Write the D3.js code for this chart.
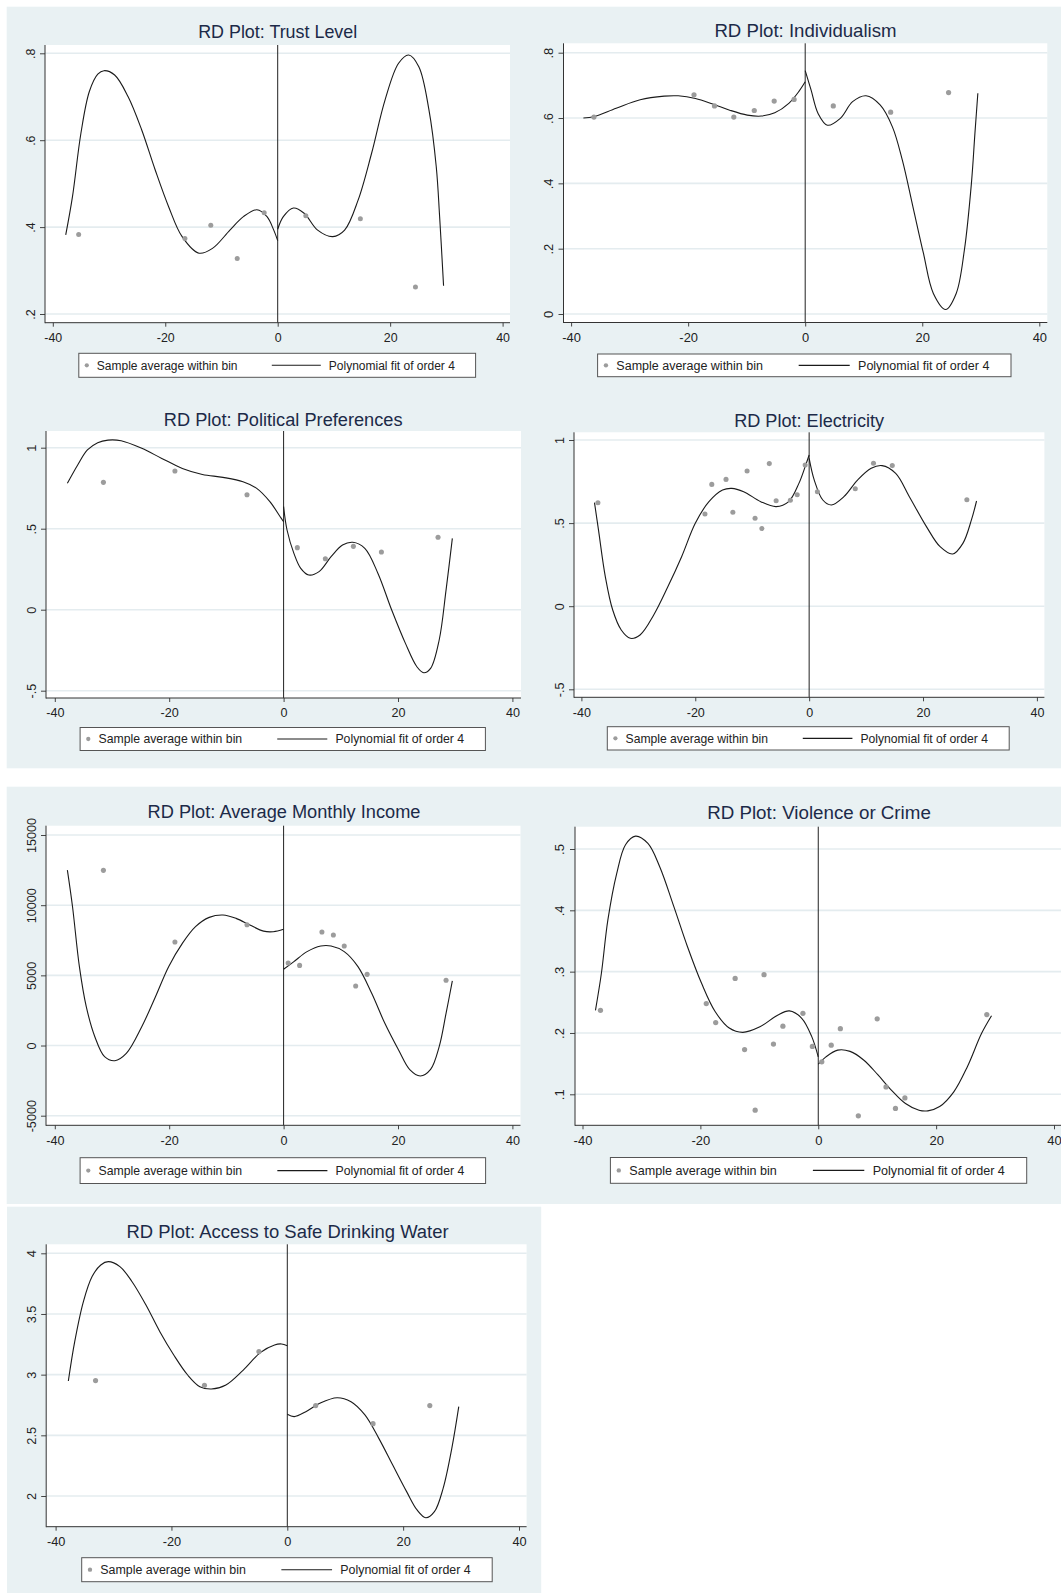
<!DOCTYPE html>
<html>
<head>
<meta charset="utf-8">
<script src="https://cdn.jsdelivr.net/npm/d3@7"></script>
<style>
  body { margin: 0; background: #fff; }
  svg { display: block; font-family: "Liberation Sans", Arial, sans-serif; }
</style>
</head>
<body>
<svg id="chart" width="1061" height="1593"></svg>
<script>
// ---- data ----
const xTicks = [-40, -20, 0, 20, 40];
const legendLabels = ['Sample average within bin', 'Polynomial fit of order 4'];

const trustBins = [[-35.4, .383], [-16.5, .374], [-11.9, .404], [-7.2, .328], [-2.4, .433], [5.0, .426], [14.7, .419], [24.5, .262]];
const trustFitLeft = [[-37.7, .382], [-36.5, .47], [-35, .616], [-33.5, .712], [-32, .752], [-30.9, .76], [-29, .75], [-26.6, .70], [-24.2, .624], [-21.8, .532], [-19.4, .447], [-17, .378], [-14, .34], [-11.6, .351], [-8.5, .393], [-6.1, .424], [-3.7, .44], [-1.9, .424], [-0.7, .393], [0, .369]];
const trustFitRight = [[0, .395], [1, .424], [2.8, .444], [4.7, .432], [7.1, .393], [9.8, .378], [11.9, .393], [14.3, .462], [16.7, .57], [19.1, .693], [21.5, .777], [23.3, .796], [25.1, .769], [26.9, .67], [28.2, .539], [28.8, .424], [29.5, .265]];
const trustTicks = [.2, .4, .6, .8];
const trustTickLabels = ['.2', '.4', '.6', '.8'];

const indivBins = [[-36.1, .603], [-19, .671], [-15.5, .637], [-12.2, .603], [-8.7, .623], [-5.3, .652], [-1.9, .657], [4.8, .637], [14.6, .618], [24.5, .678]];
const indivFitLeft = [[-37.9, .6], [-36.1, .604], [-32.3, .63], [-28.2, .656], [-24.1, .667], [-21.7, .668], [-18.75, .66], [-15.8, .643], [-12.9, .624], [-9.9, .609], [-7.5, .606], [-5.2, .616], [-2.8, .645], [-1.1, .681], [0, .711]];
const indivFitRight = [[0, .745], [1, .686], [2.2, .614], [3.8, .578], [6, .599], [8.1, .65], [10.4, .668], [12.8, .64], [14.9, .573], [16.6, .471], [18.4, .329], [20.2, .186], [21.9, .063], [24, .014], [25.8, .063], [27.2, .196], [28.4, .40], [29, .553], [29.5, .676]];
const indivTicks = [0, .2, .4, .6, .8];
const indivTickLabels = ['0', '.2', '.4', '.6', '.8'];

const politBins = [[-31.5, .786], [-19, .856], [-6.4, .71], [2.4, .383], [7.3, .315], [12.2, .391], [17.1, .356], [27, .447]];
const politFitLeft = [[-37.8, .78], [-36, .893], [-34.3, .986], [-32.5, 1.031], [-30.7, 1.047], [-28.4, 1.043], [-24.8, .996], [-21.3, .934], [-17.7, .872], [-14.2, .835], [-10.6, .817], [-7.1, .79], [-4.7, .749], [-2.4, .667], [-0.6, .574], [0, .543]];
const politFitRight = [[0, .636], [0.6, .492], [1.8, .348], [3, .255], [4.4, .214], [6.2, .235], [8.3, .327], [10.3, .399], [12.1, .416], [14.2, .379], [16.5, .224], [18.9, -.002], [21.3, -.208], [23.3, -.352], [24.5, -.389], [25.7, -.362], [27.2, -.187], [28.4, .121], [29.5, .44]];
const politTicks = [-.5, 0, .5, 1];
const politTickLabels = ['-.5', '0', '.5', '1'];

const electBins = [[-37.1, .623], [-18.3, .555], [-17.1, .733], [-14.6, .763], [-13.4, .565], [-10.9, .813], [-9.5, .529], [-8.3, .467], [-7, .858], [-5.8, .635], [-3.3, .637], [-2.1, .671], [-0.7, .85], [1.45, .689], [8.1, .707], [11.3, .86], [14.6, .846], [27.7, .641]];
const electFitLeft = [[-37.7, .623], [-37, .459], [-35.8, .178], [-34.5, -.023], [-33, -.143], [-31.4, -.193], [-29.7, -.173], [-27.3, -.053], [-24.8, .118], [-22.4, .298], [-20, .499], [-17.6, .629], [-15.2, .699], [-13.6, .709], [-11.5, .689], [-8.5, .629], [-5.8, .599], [-3.6, .629], [-1.8, .739], [-0.6, .85], [0, .91]];
const electFitRight = [[0, .89], [.9, .759], [2.4, .639], [3.9, .609], [6.1, .659], [8.5, .759], [10.9, .83], [12.8, .846], [15.2, .799], [17.6, .659], [20.6, .479], [23, .358], [25.2, .314], [27, .378], [28.5, .519], [29.4, .633]];
const electTicks = [-.5, 0, .5, 1];
const electTickLabels = ['-.5', '0', '.5', '1'];

const incomeBins = [[-31.5, 12480], [-19, 7380], [-6.4, 8610], [0.8, 5880], [2.8, 5710], [6.7, 8090], [8.7, 7880], [10.6, 7090], [12.6, 4240], [14.6, 5070], [28.4, 4650]];
const incomeFitLeft = [[-37.8, 12500], [-36.9, 9890], [-35.7, 5620], [-34.5, 2770], [-33, 630], [-31.3, -790], [-29.5, -1080], [-27.5, -560], [-24.8, 1340], [-22.4, 3480], [-20.1, 5620], [-17.7, 7280], [-15.4, 8470], [-13, 9130], [-10.6, 9300], [-8.3, 9060], [-5.9, 8590], [-3.5, 8150], [-1.8, 8110], [0, 8280]];
const incomeFitRight = [[0, 5430], [1.8, 5980], [4.1, 6690], [6.5, 7090], [8.3, 7090], [10.6, 6690], [13, 5620], [15.4, 3720], [17.7, 1580], [20.1, -320], [22.1, -1740], [23.9, -2170], [25.7, -1700], [27.2, -80], [28.4, 2290], [29.5, 4600]];
const incomeTicks = [-5000, 0, 5000, 10000, 15000];
const incomeTickLabels = ['-5000', '0', '5000', '10000', '15000'];

const crimeBins = [[-36.95, .237], [-19, .248], [-17.4, .217], [-14.1, .289], [-12.5, .173], [-10.7, .074], [-9.2, .295], [-7.6, .182], [-6, .211], [-2.6, .232], [-1, .178], [0.6, .153], [2.2, .18], [3.75, .207], [6.8, .065], [10, .223], [11.5, .112], [13.1, .077], [14.7, .094], [28.6, .23]];
const crimeFitLeft = [[-37.8, .237], [-36.8, .297], [-35.7, .384], [-34.2, .46], [-32.7, .507], [-31, .521], [-28.9, .509], [-26.9, .471], [-24.5, .406], [-22.2, .341], [-19.8, .281], [-17.5, .235], [-15.1, .208], [-12.8, .201], [-9.9, .21], [-6.9, .229], [-4.9, .236], [-2.8, .224], [-1.1, .194], [0, .161]];
const crimeFitRight = [[0, .149], [1.3, .161], [3.3, .172], [5.4, .17], [7.7, .156], [10.1, .132], [12.4, .107], [14.8, .085], [17.1, .074], [18.6, .073], [20.6, .08], [23, .104], [25.3, .145], [27.7, .199], [29.4, .228]];
const crimeTicks = [.1, .2, .3, .4, .5];
const crimeTickLabels = ['.1', '.2', '.3', '.4', '.5'];

const waterBins = [[-33.1, 2.951], [-14.3, 2.912], [-4.9, 3.19], [4.9, 2.745], [14.8, 2.596], [24.6, 2.745]];
const waterFitLeft = [[-37.8, 2.948], [-36.7, 3.272], [-35.2, 3.602], [-33.7, 3.808], [-32.2, 3.904], [-30.9, 3.931], [-28.9, 3.89], [-26.8, 3.766], [-24.4, 3.574], [-22, 3.354], [-19.6, 3.162], [-17.2, 2.997], [-15.1, 2.901], [-13.1, 2.882], [-10.6, 2.915], [-7.6, 3.038], [-4.6, 3.184], [-2.2, 3.245], [-1, 3.253], [0, 3.239]];
const waterFitRight = [[0, 2.673], [1.2, 2.654], [3.2, 2.695], [5.6, 2.764], [8.6, 2.81], [11, 2.777], [13.4, 2.668], [15.8, 2.475], [18.2, 2.255], [20.6, 2.036], [22.4, 1.885], [23.9, 1.821], [25.4, 1.871], [26.9, 2.063], [28.4, 2.393], [29.6, 2.736]];
const waterTicks = [2, 2.5, 3, 3.5, 4];
const waterTickLabels = ['2', '2.5', '3', '3.5', '4'];

// ---- layout (pixels) ----
// grey graph regions behind the panels
const backgrounds = [[6.7, 6.7, 1055, 761.6], [6.7, 786.7, 1055, 417.3], [7, 1206.7, 534.2, 390]];

const panels = [
    { title: 'RD Plot: Trust Level', bins: trustBins, left: trustFitLeft, right: trustFitRight, ticks: trustTicks, labels: trustTickLabels,
      plot: [45, 45, 510, 322.7], xr: [52.8, 502.6], yr: [314, 53.3], legend: [78.8, 353.3, 475.6, 377.3], tpos: [277.7, 31.7] },
    { title: 'RD Plot: Individualism', bins: indivBins, left: indivFitLeft, right: indivFitRight, ticks: indivTicks, labels: indivTickLabels,
      plot: [563.5, 43.3, 1047.3, 322.5], xr: [571.1, 1039.3], yr: [314, 52.7], legend: [597.6, 354, 1011, 376.7], tpos: [805.5, 30.7] },
    { title: 'RD Plot: Political Preferences', bins: politBins, left: politFitLeft, right: politFitRight, ticks: politTicks, labels: politTickLabels,
      plot: [46, 431, 521, 698], xr: [54.8, 512.4], yr: [690.7, 447.7], legend: [80.1, 727.5, 485.4, 750.5], tpos: [283.2, 419.3] },
    { title: 'RD Plot: Electricity', bins: electBins, left: electFitLeft, right: electFitRight, ticks: electTicks, labels: electTickLabels,
      plot: [574, 432.3, 1044.4, 697.3], xr: [581.4, 1036.9], yr: [689.3, 440], legend: [607.3, 726.7, 1009.2, 750], tpos: [809.1, 420] },
    { title: 'RD Plot: Average Monthly Income', bins: incomeBins, left: incomeFitLeft, right: incomeFitRight, ticks: incomeTicks, labels: incomeTickLabels,
      plot: [46, 825.7, 520.5, 1125.3], xr: [54.8, 512.4], yr: [1115.7, 835], legend: [80.1, 1157.7, 485.6, 1183.5], tpos: [284, 811.7] },
    { title: 'RD Plot: Violence or Crime', bins: crimeBins, left: crimeFitLeft, right: crimeFitRight, ticks: crimeTicks, labels: crimeTickLabels,
      plot: [575, 826.7, 1075, 1125.3], xr: [582.5, 1054], yr: [1094.3, 849], legend: [610.4, 1157.5, 1026.7, 1183.3], tpos: [819, 812.3] },
    { title: 'RD Plot: Access to Safe Drinking Water', bins: waterBins, left: waterFitLeft, right: waterFitRight, ticks: waterTicks, labels: waterTickLabels,
      plot: [46.2, 1244.3, 526.6, 1526.7], xr: [55.6, 519], yr: [1496, 1253.3], legend: [81.7, 1557.7, 492.2, 1581.7], tpos: [287.6, 1231] }
];

const svg = d3.select('#chart');

svg.selectAll('rect.bg')
    .data(backgrounds)
    .enter()
    .append('rect')
    .attr('class', 'bg')
    .attr('x', d => d[0]).attr('y', d => d[1])
    .attr('width', d => d[2]).attr('height', d => d[3])
    .attr('fill', '#e9f1f3');

panels.forEach(drawPanel);

function drawPanel(p) {
    const [x0, y0, x1, y1] = p.plot;
    const k = (p.xr[1] - p.xr[0]) / 449.8; // size factor of this pasted panel
    const x = d3.scaleLinear().domain([-40, 40]).range(p.xr);
    const y = d3.scaleLinear().domain([p.ticks[0], p.ticks[p.ticks.length - 1]]).range(p.yr);
    const g = svg.append('g');

    // title
    g.append('text')
        .attr('x', p.tpos[0])
        .attr('y', p.tpos[1])
        .attr('dy', '0.36em')
        .attr('text-anchor', 'middle')
        .attr('font-size', 17.9 * k)
        .attr('fill', '#1c2a48')
        .text(p.title);

    // plot region
    g.append('rect')
        .attr('x', x0).attr('y', y0)
        .attr('width', x1 - x0).attr('height', y1 - y0)
        .attr('fill', '#fff');

    // grid lines
    g.selectAll('.grid')
        .data(p.ticks)
        .enter()
        .append('line')
        .attr('class', 'grid')
        .attr('x1', x0).attr('x2', x1)
        .attr('y1', d => y(d)).attr('y2', d => y(d))
        .attr('stroke', '#e4ecef')
        .attr('stroke-width', 1.6);

    // cutoff line
    g.append('line')
        .attr('x1', x(0)).attr('x2', x(0))
        .attr('y1', y0).attr('y2', y1)
        .attr('stroke', '#222')
        .attr('stroke-width', 1);

    // polynomial fits, one each side of the cutoff
    const line = d3.line()
        .x(d => x(d[0]))
        .y(d => y(d[1]))
        .curve(d3.curveCatmullRom.alpha(0.5));
    [p.left, p.right].forEach(side => {
        g.append('path')
            .attr('d', line(side))
            .attr('fill', 'none')
            .attr('stroke', '#1a1a1a')
            .attr('stroke-width', 1.1);
    });

    // bin averages
    g.selectAll('.bin')
        .data(p.bins)
        .enter()
        .append('circle')
        .attr('class', 'bin')
        .attr('cx', d => x(d[0]))
        .attr('cy', d => y(d[1]))
        .attr('r', 2.5 * k)
        .attr('fill', '#9c9c9c');

    // axes
    const xAxis = g.append('g')
        .attr('transform', 'translate(0,' + y1 + ')')
        .call(d3.axisBottom(x).tickValues(xTicks).tickFormat(d3.format('d')).tickSize(4).tickSizeOuter(0).tickPadding(6.5));
    const yAxis = g.append('g')
        .attr('transform', 'translate(' + x0 + ',0)')
        .call(d3.axisLeft(y).tickValues(p.ticks).tickFormat((d, i) => p.labels[i]).tickSize(5).tickSizeOuter(0));
    [xAxis, yAxis].forEach(a => {
        a.select('.domain').remove();
        a.selectAll('line').attr('stroke', '#444');
        a.selectAll('text')
            .attr('fill', '#222')
            .attr('font-size', 12.4 * k)
            .attr('font-family', '"Liberation Sans", Arial, sans-serif');
    });
    xAxis.selectAll('text').text(d => d3.format('d')(d).replace('−', '-'));
    yAxis.selectAll('text')
        .attr('x', null)
        .attr('y', null)
        .attr('text-anchor', 'middle')
        .attr('dy', '0.36em')
        .attr('transform', 'translate(' + (-14.6 * k) + ',0) rotate(-90)');

    g.append('line')
        .attr('x1', x0).attr('x2', x0).attr('y1', y0).attr('y2', y1 + 0.5)
        .attr('stroke', '#333').attr('stroke-width', 1);
    g.append('line')
        .attr('x1', x0).attr('x2', x1).attr('y1', y1).attr('y2', y1)
        .attr('stroke', '#333').attr('stroke-width', 1);

    // legend
    const [lx0, ly0, lx1, ly1] = p.legend;
    const kl = (lx1 - lx0) / 396.8;
    const ly = (ly0 + ly1) / 2;
    const lg = g.append('g');
    lg.append('rect')
        .attr('x', lx0).attr('y', ly0)
        .attr('width', lx1 - lx0).attr('height', ly1 - ly0)
        .attr('fill', '#fff')
        .attr('stroke', '#555')
        .attr('stroke-width', 1);
    lg.append('circle')
        .attr('cx', lx0 + 8 * kl).attr('cy', ly)
        .attr('r', 2.1 * kl)
        .attr('fill', '#9c9c9c');
    lg.append('line')
        .attr('x1', lx0 + 193 * kl).attr('x2', lx0 + 242 * kl)
        .attr('y1', ly).attr('y2', ly)
        .attr('stroke', '#1a1a1a').attr('stroke-width', 1.1);
    lg.selectAll('.lab')
        .data(legendLabels)
        .enter()
        .append('text')
        .attr('class', 'lab')
        .attr('x', (d, i) => lx0 + (i === 0 ? 18 : 250) * kl)
        .attr('y', ly)
        .attr('dy', '0.36em')
        .attr('font-size', 12 * kl)
        .attr('fill', '#222')
        .text(d => d);
}
</script>
</body>
</html>
